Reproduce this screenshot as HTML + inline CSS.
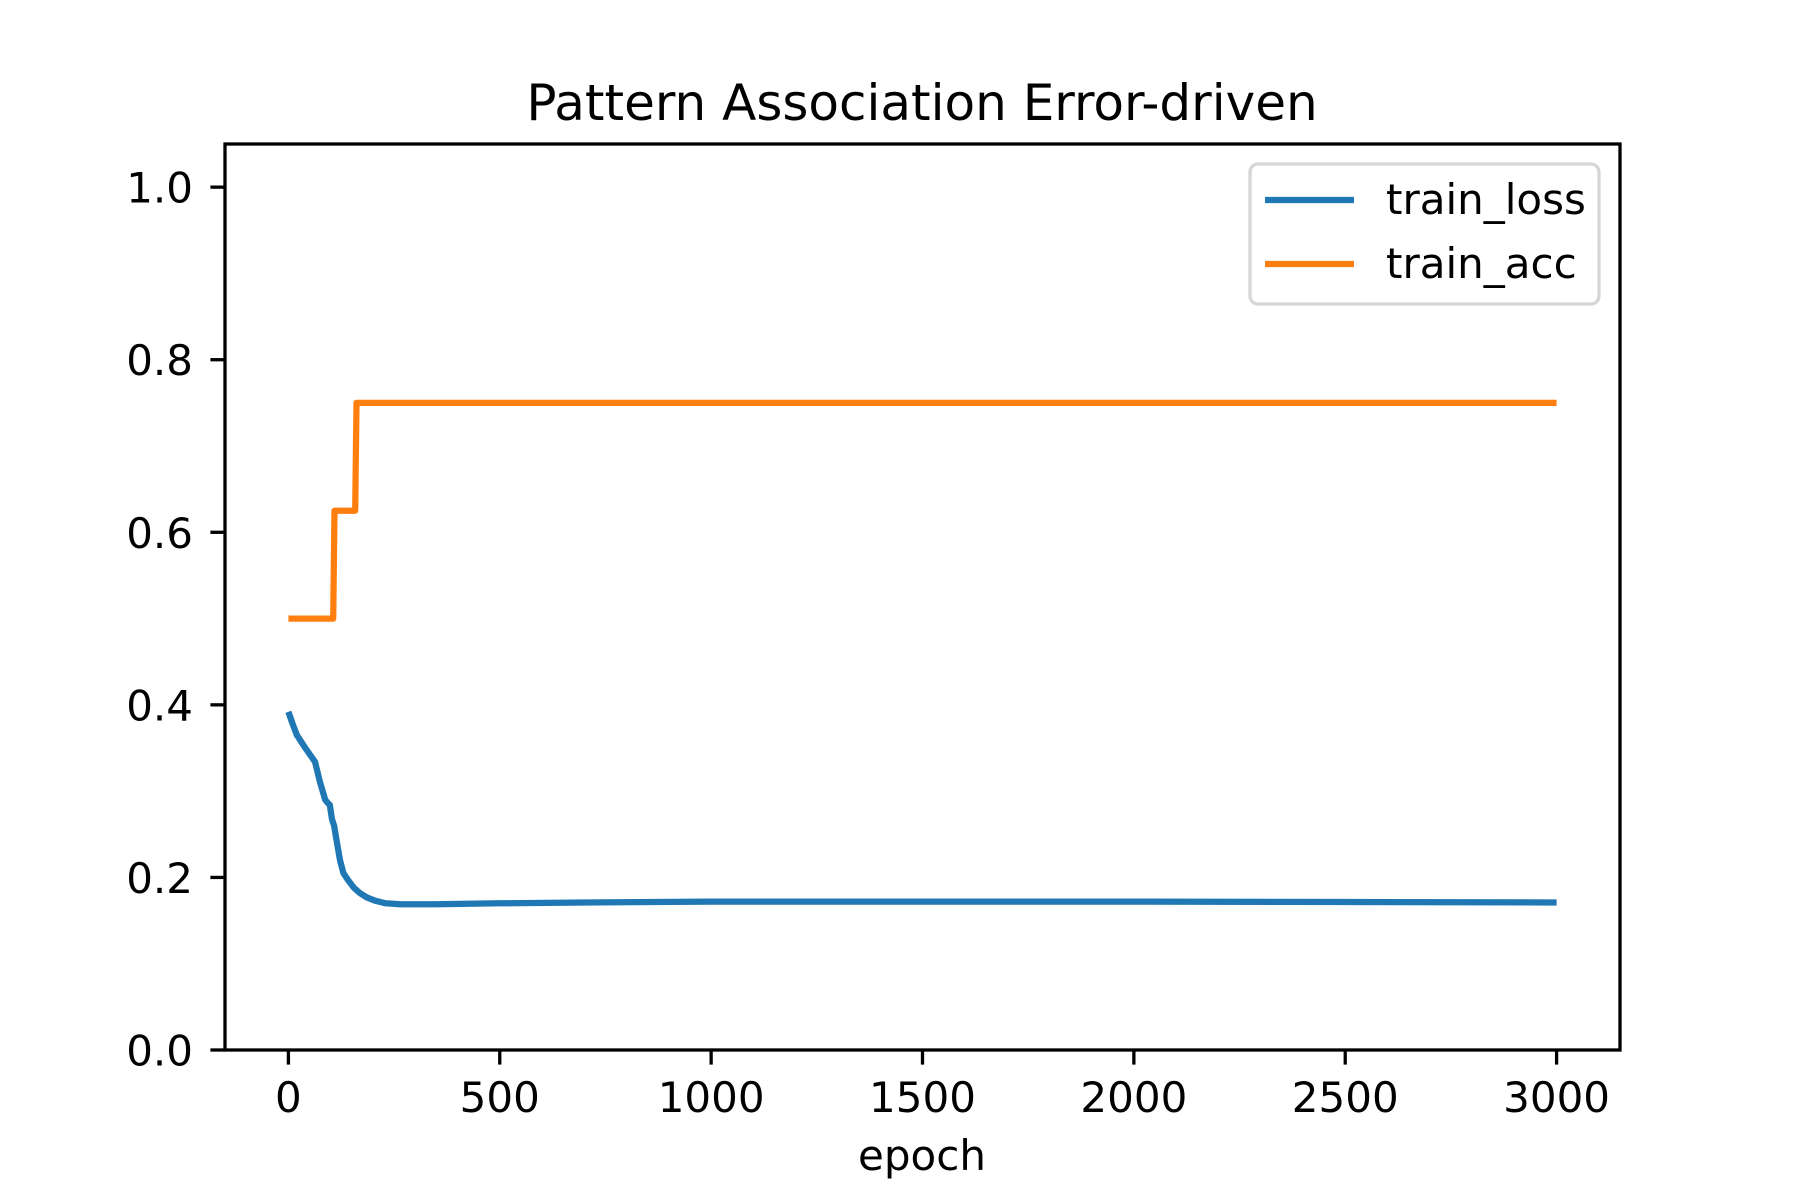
<!DOCTYPE html>
<html><head><meta charset="utf-8"><style>
html,body{margin:0;padding:0;background:#fff;}
svg{display:block;font-family:"DejaVu Sans","Liberation Sans",sans-serif;}
</style></head><body>
<svg id="chart" width="1800" height="1200" viewBox="0 0 1800 1200">
<rect width="1800" height="1200" fill="#fff"/>
<text x="922" y="120" font-size="50" text-anchor="middle">Pattern Association Error-driven</text>
<g id="series"></g>
<g id="axes"></g>
<rect x="225" y="144" width="1395" height="906" fill="none" stroke="#000" stroke-width="3.3"/>
<text x="922" y="1170" font-size="42" text-anchor="middle">epoch</text>
<g>
<rect x="1250" y="164" width="349" height="140" rx="8" fill="#fff" fill-opacity="0.8" stroke="#d6d6d6" stroke-width="3.3"/>
<line x1="1265" y1="200" x2="1354" y2="200" stroke="#1f77b4" stroke-width="6.25"/>
<text x="1386" y="214" font-size="42">train_loss</text>
<line x1="1265" y1="264" x2="1354" y2="264" stroke="#ff7f0e" stroke-width="6.25"/>
<text x="1386" y="278" font-size="42">train_acc</text>
</g>
</svg>
<script>
const xTicks = [0, 500, 1000, 1500, 2000, 2500, 3000];
const yTicks = [0.0, 0.2, 0.4, 0.6, 0.8, 1.0];
const yTickLabels = ["0.0", "0.2", "0.4", "0.6", "0.8", "1.0"];
const lossEpochs = [0, 10, 20, 40, 63, 75, 87, 92, 98, 103, 108, 115, 122, 130, 141, 155, 169, 185, 205, 230, 264, 350, 500, 700, 1000, 1500, 2000, 2500, 3000];
const lossValues = [0.392, 0.378, 0.365, 0.35, 0.334, 0.31, 0.29, 0.287, 0.284, 0.268, 0.26, 0.24, 0.22, 0.205, 0.197, 0.188, 0.182, 0.177, 0.173, 0.17, 0.169, 0.169, 0.170, 0.171, 0.172, 0.172, 0.172, 0.1715, 0.171];
const accEpochs = [0, 106, 109, 158, 161, 3000];
const accValues = [0.5, 0.5, 0.625, 0.625, 0.75, 0.75];

const X0 = 288.4, XS = (1556.6 - 288.4) / 3000;
const Y0 = 1050, YS = 906 / 1.05;
function xs(v){ return X0 + v * XS; }
function ys(v){ return Y0 - v * YS; }
const NS = "http://www.w3.org/2000/svg";
const axes = document.getElementById('axes');
const series = document.getElementById('series');

xTicks.forEach(function(t){
  const l = document.createElementNS(NS, 'line');
  l.setAttribute('x1', xs(t)); l.setAttribute('x2', xs(t));
  l.setAttribute('y1', 1050); l.setAttribute('y2', 1064.6);
  l.setAttribute('stroke', '#000'); l.setAttribute('stroke-width', 3.3);
  
  
  axes.appendChild(l);
  const tx = document.createElementNS(NS, 'text');
  tx.setAttribute('x', xs(t)); tx.setAttribute('y', 1112);
  tx.setAttribute('font-size', 42); tx.setAttribute('text-anchor', 'middle');
  tx.textContent = String(t);
  
  
  axes.appendChild(tx);
});
yTicks.forEach(function(t, i){
  const l = document.createElementNS(NS, 'line');
  l.setAttribute('x1', 210.4); l.setAttribute('x2', 225);
  l.setAttribute('y1', ys(t)); l.setAttribute('y2', ys(t));
  l.setAttribute('stroke', '#000'); l.setAttribute('stroke-width', 3.3);
  
  
  axes.appendChild(l);
  const tx = document.createElementNS(NS, 'text');
  tx.setAttribute('x', 193); tx.setAttribute('y', ys(t) + 15.5);
  tx.setAttribute('font-size', 42); tx.setAttribute('text-anchor', 'end');
  tx.textContent = yTickLabels[i];
  
  
  axes.appendChild(tx);
});
function line(ex, vals, color, name){
  const p = document.createElementNS(NS, 'polyline');
  p.setAttribute('points', ex.map(function(e, i){ return xs(e).toFixed(1) + ',' + ys(vals[i]).toFixed(1); }).join(' '));
  p.setAttribute('fill', 'none'); p.setAttribute('stroke', color);
  p.setAttribute('stroke-width', 6.25); p.setAttribute('stroke-linejoin', 'round');
  
  
  series.appendChild(p);
}
line(lossEpochs, lossValues, '#1f77b4', 'train-loss-line');
line(accEpochs, accValues, '#ff7f0e', 'train-acc-line');
</script>
</body></html>
